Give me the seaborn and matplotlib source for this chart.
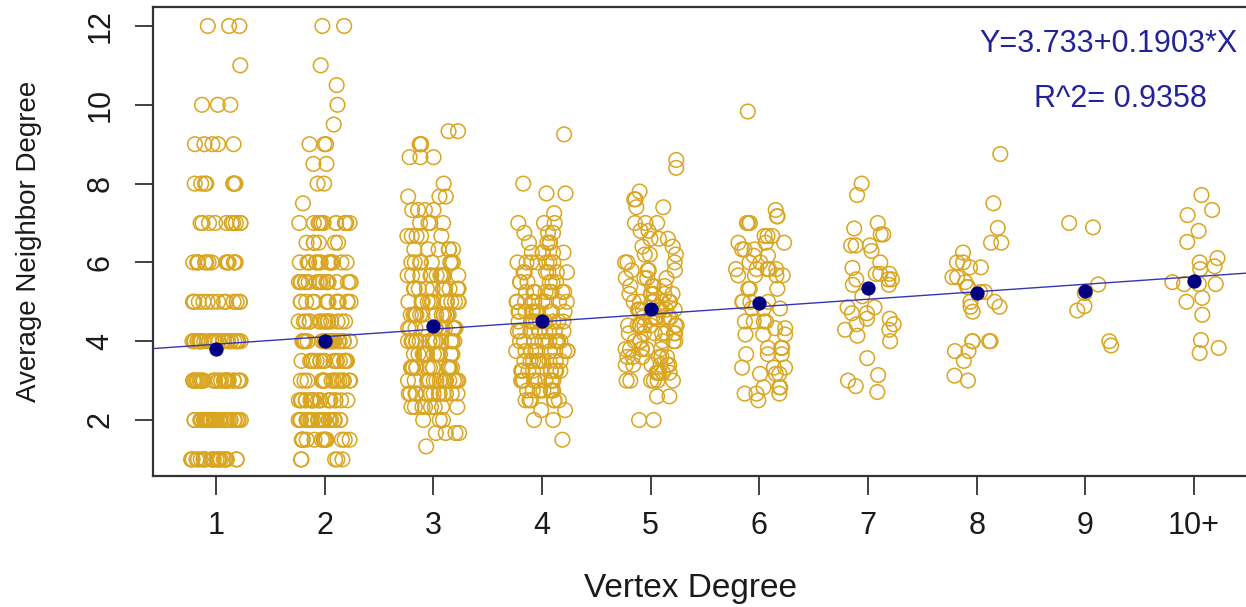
import numpy as np
import pandas as pd
import matplotlib
matplotlib.use("Agg")
import matplotlib.pyplot as plt
import seaborn as sns

# ---------------- data ----------------
degree_positions = [1, 2, 3, 4, 5, 6, 7, 8, 9, 10]
degree_labels = ["1", "2", "3", "4", "5", "6", "7", "8", "9", "10+"]

deg1_values = [1, 2, 3, 4, 5, 6, 7, 8, 9, 10, 11, 12]
deg1_counts = [25, 40, 30, 30, 14, 15, 10, 8, 5, 3, 1, 3]

deg2_values = [1, 1.5, 2, 2.5, 3, 3.5, 4, 4.5, 5, 5.5, 6, 6.5, 7, 7.5, 8, 8.5, 9, 9.5, 10, 10.5, 11, 12]
deg2_counts = [5, 15, 25, 20, 18, 20, 25, 15, 15, 18, 15, 6, 12, 1, 2, 2, 3, 1, 1, 1, 1, 2]

deg3_values = [1.33, 1.67, 2.0, 2.33, 2.67, 3.0, 3.33, 3.67, 4.0, 4.33, 4.67, 5.0, 5.33, 5.67,
               6.0, 6.33, 6.67, 7.0, 7.33, 7.67, 8.0, 8.67, 9.0, 9.33]
deg3_counts = [1, 4, 3, 8, 14, 16, 16, 16, 16, 14, 14, 14, 12, 12, 8, 6, 5, 4, 4, 3, 1, 3, 3, 2]

deg4_values = [1.5, 2.0, 2.25, 2.5, 2.75, 3.0, 3.25, 3.5, 3.75, 4.0, 4.25, 4.5, 4.75, 5.0, 5.25,
               5.5, 5.75, 6.0, 6.25, 6.5, 6.75, 7.0, 7.25, 7.75, 8.0, 9.25]
deg4_counts = [1, 2, 2, 6, 8, 10, 10, 10, 10, 10, 10, 10, 10, 10, 8, 6, 6, 7, 5, 4, 3, 3, 1, 2, 1, 1]

deg5_values = [2.0, 2.6, 3.0, 3.2, 3.4, 3.6, 3.8, 4.0, 4.2, 4.4, 4.6, 4.8, 5.0, 5.2, 5.4, 5.6,
               5.8, 6.0, 6.2, 6.4, 6.6, 6.8, 7.0, 7.4, 7.6, 7.8, 8.4, 8.6]
deg5_counts = [2, 2, 6, 6, 6, 6, 6, 6, 7, 8, 8, 8, 8, 6, 4, 4, 4, 3, 3, 2, 3, 2, 3, 2, 2, 1, 1, 1]

deg6_values = [2.5, 2.67, 2.83, 3.17, 3.33, 3.67, 3.83, 4.17, 4.33, 4.5, 4.83, 5.0, 5.33, 5.67,
               5.83, 6.0, 6.17, 6.33, 6.5, 6.67, 7.0, 7.17, 7.33, 9.83]
deg6_counts = [1, 3, 3, 3, 3, 3, 4, 3, 2, 4, 3, 4, 3, 4, 5, 2, 2, 3, 3, 3, 3, 2, 1, 1]

deg7_values = [8.0, 7.71, 7.0, 6.86, 6.71, 6.71, 6.43, 6.43, 6.43, 6.29, 6.0, 5.86, 5.71, 5.71,
               5.71, 5.57, 5.57, 5.57, 5.43, 5.43, 5.14, 4.86, 4.86, 4.71, 4.71, 4.57, 4.57,
               4.43, 4.43, 4.29, 4.29, 4.14, 4.0, 3.57, 3.14, 3.0, 2.86, 2.71]

deg8_values = [8.75, 7.5, 6.875, 6.5, 6.5, 6.25, 6.0, 6.0, 5.875, 5.875, 5.625, 5.625, 5.5,
               5.375, 5.375, 5.25, 5.25, 5.0, 5.0, 4.875, 4.875, 4.75, 4.0, 4.0, 4.0, 4.0,
               3.75, 3.75, 3.5, 3.125, 3.0]

deg9_values = [7.0, 6.89, 5.44, 5.22, 4.89, 4.78, 4.0, 3.89]

deg10_values = [7.71, 7.33, 7.2, 6.8, 6.52, 6.11, 6.0, 5.9, 5.83, 5.5, 5.45, 5.45, 5.45,
                5.1, 5.0, 4.67, 4.03, 3.83, 3.7]

group_means = [3.80, 4.01, 4.39, 4.52, 4.81, 4.98, 5.34, 5.23, 5.27, 5.54]

fit_intercept = 3.733
fit_slope = 0.1903
fit_r2 = 0.9358

# ---------------- build long table ----------------
groups = [
    np.repeat(deg1_values, deg1_counts),
    np.repeat(deg2_values, deg2_counts),
    np.repeat(deg3_values, deg3_counts),
    np.repeat(deg4_values, deg4_counts),
    np.repeat(deg5_values, deg5_counts),
    np.repeat(deg6_values, deg6_counts),
    np.asarray(deg7_values),
    np.asarray(deg8_values),
    np.asarray(deg9_values),
    np.asarray(deg10_values),
]
df = pd.concat(
    [pd.DataFrame({"degree": pos, "avg": vals}) for pos, vals in zip(degree_positions, groups)],
    ignore_index=True,
)
means_df = pd.DataFrame({"degree": degree_positions, "mean": group_means})

# ---------------- plot ----------------
GOLD = "#DAA520"
NAVY = "#000080"
LINE = "#3535b5"
TEXT_BLUE = "#22229a"

sns.set_style("ticks")
plt.rcParams["font.family"] = ["Liberation Sans", "DejaVu Sans"]

fig = plt.figure(figsize=(12.46, 6.07), dpi=100)
ax = fig.add_axes([153 / 1246, 1 - 476 / 607, 1 - 153 / 1246, (476 - 7) / 607])

np.random.seed(3)
sns.stripplot(data=df, x="degree", y="avg", native_scale=True, jitter=0.24,
              color=GOLD, facecolor="none", edgecolor=GOLD, linewidth=1.1,
              size=10.5, marker="o", ax=ax, zorder=2)

ax.axline((0, fit_intercept), slope=fit_slope, color=LINE, lw=1.0, zorder=3)

sns.scatterplot(data=means_df, x="degree", y="mean", color=NAVY, edgecolor=NAVY,
                s=90, marker="o", ax=ax, zorder=4, legend=False)

ax.set_xlim(0.4203, 10.478)
ax.set_ylim(0.579, 12.482)

ax.set_xticks(degree_positions)
ax.set_xticklabels(degree_labels)
ax.set_yticks([2, 4, 6, 8, 10, 12])
ax.set_yticklabels(["2", "4", "6", "8", "10", "12"])

for side in ["left", "bottom", "top"]:
    ax.spines[side].set_visible(True)
    ax.spines[side].set_color("#333333")
    ax.spines[side].set_linewidth(1.6)
ax.spines["right"].set_visible(False)

ax.tick_params(axis="both", which="both", direction="out", color="#333333",
               width=1.3, labelsize=22, labelcolor="#1a1a1a",
               bottom=True, left=True, top=False, right=False)
ax.tick_params(axis="x", length=13.5, pad=12)
ax.tick_params(axis="y", length=13, pad=14, labelrotation=90)
for lab in ax.get_yticklabels():
    lab.set_va("center")

ax.set_xlabel("Vertex Degree", fontsize=24, color="#1a1a1a", labelpad=23)
ax.xaxis.label.set_x((690 - 153) / (1246 - 153))
ax.set_ylabel("Average Neighbor Degree", fontsize=20, color="#1a1a1a", labelpad=31)

ax.text(10.404, 11.54, f"Y={fit_intercept}+{fit_slope}*X", ha="right", va="center",
        fontsize=22, color=TEXT_BLUE)
ax.text(9.319, 10.15, f"R^2= {fit_r2}", ha="center", va="center",
        fontsize=22, color=TEXT_BLUE)

fig.savefig("out.png", dpi=100)
